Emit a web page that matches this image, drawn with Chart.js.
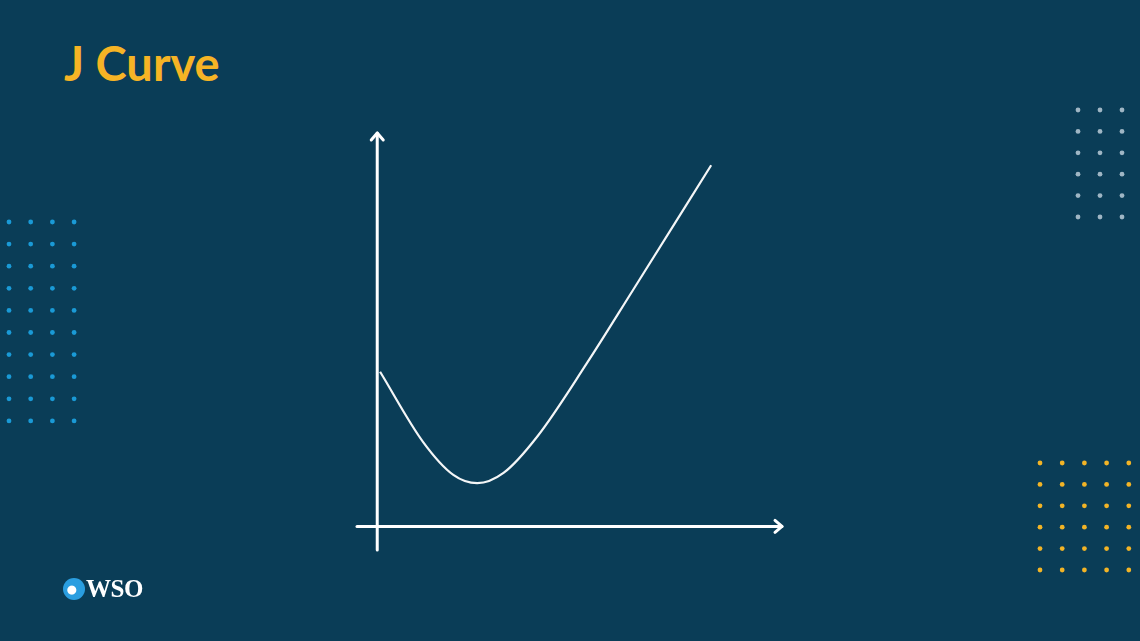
<!DOCTYPE html>
<html lang="en">
  <head>
    <title>J Curve</title>
    <meta charset="UTF-8" />
    <script src="https://cdn.jsdelivr.net/npm/chart.js"></script>
    <style>
      body {
        margin: 0;
        background: #0a3d57;
        width: 1140px;
        height: 641px;
        overflow: hidden;
        position: relative;
        font-family: Lato, sans-serif;
      }
      #chart {
        position: absolute;
        left: 0;
        top: 0;
      }
      h1 {
        position: absolute;
        left: 64px;
        top: 35px;
        margin: 0;
        font-size: 47px;
        line-height: 56px;
        font-weight: 700;
        color: #f6b425;
      }
      .logo {
        position: absolute;
        left: 63px;
        top: 575px;
        display: flex;
        align-items: center;
      }
      .logo .globe {
        width: 22px;
        height: 22px;
        border-radius: 50%;
        background: radial-gradient(circle at 40% 55%, #ffffff 0 4px, #2a9ee0 5px 100%);
        margin-right: 1px;
      }
      .logo span {
        font-family: 'Liberation Serif', 'DejaVu Serif', serif;
        font-weight: 700;
        font-size: 25px;
        color: #ffffff;
        letter-spacing: -0.5px;
      }
    </style>
  </head>
  <body>
    <h1>J Curve</h1>
    <canvas id="chart" width="1140" height="641"></canvas>
    <div class="logo"><div class="globe"></div><span>WSO</span></div>

    <script>
      // curve points (x = time, y = value)
      const xValues = [0.07, 1.13, 1.88, 2.47, 3.12, 3.95, 5.18, 6.32, 8.25];
      const yValues = [3.93, 2.15, 1.31, 1.10, 1.36, 2.28, 4.15, 6.01, 9.18];

      const points = xValues.map((x, i) => ({ x: x, y: yValues[i] }));

      // axes with arrow heads, drawn at value 0 of each scale
      const axesPlugin = {
        id: 'arrowAxes',
        afterDatasetsDraw(chart) {
          const c = chart.ctx;
          const sx = chart.scales.x;
          const sy = chart.scales.y;
          const x0 = sx.getPixelForValue(0);
          const y0 = sy.getPixelForValue(0);
          const area = chart.chartArea;
          c.save();
          c.strokeStyle = '#ffffff';
          c.lineWidth = 3;
          c.lineCap = 'round';
          c.lineJoin = 'round';
          // y axis
          c.beginPath();
          c.moveTo(x0, area.bottom);
          c.lineTo(x0, area.top);
          c.stroke();
          c.beginPath();
          c.moveTo(x0 - 6, area.top + 7);
          c.lineTo(x0, area.top);
          c.lineTo(x0 + 6, area.top + 7);
          c.stroke();
          // x axis
          c.beginPath();
          c.moveTo(area.left, y0);
          c.lineTo(area.right, y0);
          c.stroke();
          c.beginPath();
          c.moveTo(area.right - 7, y0 - 6);
          c.lineTo(area.right, y0);
          c.lineTo(area.right - 7, y0 + 6);
          c.stroke();
          c.restore();
        },
      };

      // decorative dot grids
      const dotsPlugin = {
        id: 'dots',
        beforeDraw(chart) {
          const c = chart.ctx;
          const grid = (x, y, cols, rows, step, color) => {
            c.fillStyle = color;
            for (let i = 0; i < cols; i++) {
              for (let j = 0; j < rows; j++) {
                c.beginPath();
                c.arc(x + i * step.x, y + j * step.y, 2.4, 0, Math.PI * 2);
                c.fill();
              }
            }
          };
          c.save();
          grid(9, 222, 4, 10, { x: 21.7, y: 22.1 }, '#1a9ad6');
          grid(1078, 110, 3, 6, { x: 22, y: 21.4 }, '#9fb6c4');
          grid(1040, 463, 5, 6, { x: 22.2, y: 21.4 }, '#f2b426');
          c.restore();
        },
      };

      const ctx = document.getElementById('chart').getContext('2d');
      const chart = new Chart(ctx, {
        type: 'line',
        data: {
          datasets: [
            {
              label: 'J Curve',
              data: points,
              borderColor: '#f4f6f7',
              borderWidth: 2.2,
              pointRadius: 0,
              cubicInterpolationMode: 'monotone',
              fill: false,
            },
          ],
        },
        options: {
          responsive: false,
          animation: false,
          layout: {
            padding: { left: 357, right: 358, top: 133, bottom: 91 },
          },
          plugins: {
            legend: { display: false },
            tooltip: { enabled: false },
          },
          scales: {
            x: { type: 'linear', min: -0.5, max: 10, display: false },
            y: { type: 'linear', min: -0.6, max: 10, display: false },
          },
        },
        plugins: [dotsPlugin, axesPlugin],
      });
    </script>
  </body>
</html>
